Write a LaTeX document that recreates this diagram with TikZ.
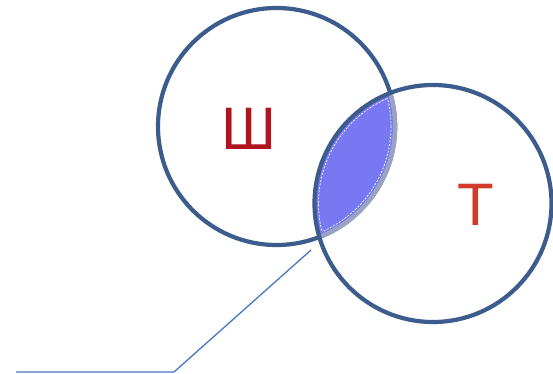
\documentclass[tikz,border=0pt]{standalone}
\usepackage{fontspec}
\setmainfont{Liberation Sans}
\definecolor{ring}{HTML}{3B5C8C}
\definecolor{lens}{HTML}{7878F2}
\definecolor{lensedge}{HTML}{9AA3C6}
\definecolor{shred}{HTML}{B0141E}
\definecolor{tred}{HTML}{D23A2C}
\definecolor{callout}{HTML}{4678C0}
\begin{document}
\begin{tikzpicture}[x=1pt,y=-1pt,
  ringstyle/.style={draw=ring,line width=4.2pt,circle,minimum size=237pt,inner sep=0pt},
  letter/.style={font=\fontsize{60}{60}\selectfont,inner sep=0pt},
  calloutline/.style={draw=callout,line width=1.3pt}]
\useasboundingbox (0,0) rectangle (553,373);
\fill[white] (0,0) rectangle (553,373);
\coordinate (ca) at (276.5,126.5);
\coordinate (cb) at (433,203.5);
% lens fill
\begin{scope}
  \clip (ca) circle[radius=118.5pt];
  \fill[lens] (cb) circle[radius=118.5pt];
\end{scope}
% circle Ш
\node[ringstyle] (A) at (ca) {};
% grey part of circle A inside circle B
\begin{scope}
  \clip (cb) circle[radius=118.5pt];
  \draw[lensedge,line width=4.6pt] (ca) circle[radius=118.5pt];
\end{scope}
% circle Т
\node[ringstyle] (B) at (cb) {};
% white dashed inset
\begin{scope}
  \clip (ca) circle[radius=114.5pt];
  \draw[white,line width=0.7pt,dash pattern=on 2pt off 1.5pt] (cb) circle[radius=114.5pt];
\end{scope}
\begin{scope}
  \clip (cb) circle[radius=114.5pt];
  \draw[white,line width=0.7pt,dash pattern=on 2pt off 1.5pt] (ca) circle[radius=114.5pt];
\end{scope}
% letters
\node[letter,text=shred] (sh) at (248.5,128.5) {Ш};
\node[letter,text=tred] (te) at (475.5,205) {Т};
% callout
\coordinate (p1) at (311,250);
\coordinate (p2) at (174,372);
\coordinate (p3) at (16,372);
\draw[calloutline] (p1) -- (p2) -- (p3);
\end{tikzpicture}
\end{document}
